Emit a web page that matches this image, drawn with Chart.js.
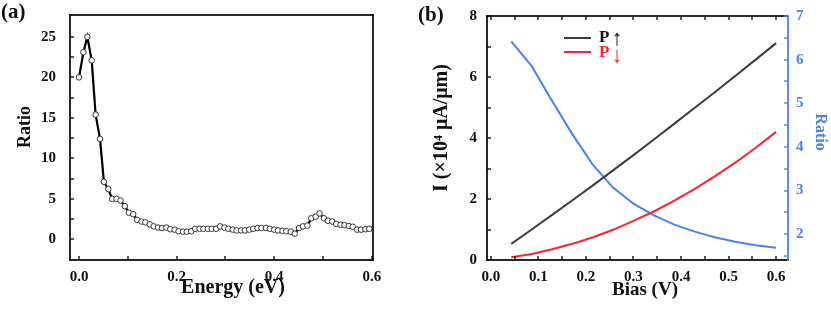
<!DOCTYPE html>
<html>
<head>
<meta charset="utf-8">
<script src="https://cdn.jsdelivr.net/npm/chart.js@4"></script>
<style>
  html, body { margin: 0; padding: 0; background: #fff; }
  #wrap { position: relative; width: 831px; height: 311px; }
  .panel { position: absolute; top: 0; height: 311px; }
  #panel-a { left: 0; width: 415px; }
  #panel-b { left: 415px; width: 416px; }
</style>
</head>
<body>
<div id="wrap">
  <div class="panel" id="panel-a"><canvas id="chart-a" width="415" height="311"></canvas></div>
  <div class="panel" id="panel-b"><canvas id="chart-b" width="416" height="311"></canvas></div>
</div>
<script>
// (a) ratio vs energy
const energy = [0.000, 0.009, 0.017, 0.026, 0.034, 0.043, 0.051, 0.060, 0.068, 0.077,
  0.085, 0.094, 0.102, 0.111, 0.119, 0.128, 0.136, 0.145, 0.153, 0.162,
  0.170, 0.179, 0.187, 0.196, 0.204, 0.213, 0.221, 0.230, 0.238, 0.247,
  0.255, 0.264, 0.272, 0.281, 0.289, 0.298, 0.306, 0.315, 0.323, 0.332,
  0.340, 0.349, 0.357, 0.366, 0.374, 0.383, 0.391, 0.400, 0.408, 0.417,
  0.425, 0.434, 0.442, 0.451, 0.459, 0.468, 0.476, 0.485, 0.493, 0.502,
  0.510, 0.519, 0.527, 0.536, 0.544, 0.553, 0.561, 0.570, 0.578, 0.587, 0.595];
const ratioA = [20.0, 23.1, 25.0, 22.1, 15.4, 12.4, 7.1, 6.2, 5.0, 5.0,
  4.8, 4.1, 3.3, 3.1, 2.4, 2.2, 2.1, 1.85, 1.6, 1.45,
  1.4, 1.45, 1.25, 1.2, 1.0, 0.95, 0.95, 1.0, 1.3, 1.3,
  1.3, 1.3, 1.3, 1.3, 1.6, 1.45, 1.3, 1.2, 1.1, 1.1,
  1.1, 1.2, 1.3, 1.4, 1.4, 1.4, 1.3, 1.2, 1.1, 1.05,
  1.0, 0.95, 0.7, 1.4, 1.6, 1.7, 2.6, 2.8, 3.2, 2.6,
  2.3, 2.2, 1.9, 1.8, 1.75, 1.65, 1.55, 1.2, 1.2, 1.25, 1.3];
const energyTicks = [0, 0.1, 0.2, 0.3, 0.4, 0.5, 0.6];
const energyLabels = [0, 0.2, 0.4, 0.6];
const ratioATicks = [0, 2.5, 5, 7.5, 10, 12.5, 15, 17.5, 20, 22.5, 25];
const ratioALabels = [0, 5, 10, 15, 20, 25];

// (b) current and ratio vs bias
const bias = [0.043, 0.086, 0.129, 0.171, 0.214, 0.257, 0.300, 0.343, 0.386, 0.429, 0.471, 0.514, 0.557, 0.600];
const currentUp = [0.53, 1.0, 1.48, 1.95, 2.44, 2.94, 3.44, 3.95, 4.47, 4.99, 5.50, 6.03, 6.57, 7.11];
const currentDown = [0.09, 0.20, 0.35, 0.53, 0.74, 0.99, 1.28, 1.59, 1.95, 2.33, 2.74, 3.19, 3.68, 4.2];
const ratioB = [6.42, 5.85, 5.05, 4.3, 3.6, 3.07, 2.7, 2.43, 2.22, 2.06, 1.93, 1.83, 1.75, 1.69];
const biasTicks = [0, 0.05, 0.1, 0.15, 0.2, 0.25, 0.3, 0.35, 0.4, 0.45, 0.5, 0.55, 0.6];
const biasLabels = [0, 0.1, 0.2, 0.3, 0.4, 0.5, 0.6];
const currentTicks = [0, 1, 2, 3, 4, 5, 6, 7, 8];
const currentLabels = [0, 2, 4, 6, 8];
const ratioBTicks = [1.5, 2, 2.5, 3, 3.5, 4, 4.5, 5, 5.5, 6, 6.5, 7];
const ratioBLabels = [2, 3, 4, 5, 6, 7];

const SERIF = "'Liberation Serif', 'Times New Roman', serif";
const INK = '#111';
const BLUE = '#4a82f4';
const RED = '#ff2030';
const GREY = '#3d3d3d';

const toXY = (xs, ys) => xs.map((x, i) => ({ x: x, y: ys[i] }));
const setTicks = vals => scale => { scale.ticks = vals.map(v => ({ value: v })); };
// fixed axis box size, no label overhang padding
const fixBox = (prop, size) => s => {
  s[prop] = size;
  s.paddingTop = 0; s.paddingBottom = 0; s.paddingLeft = 0; s.paddingRight = 0;
};

// inward tick marks, drawn as thin rects
const tickMarks = (ctx, scale, vals, side, len, color) => {
  const a = scale.chart.chartArea;
  ctx.fillStyle = color;
  vals.forEach(v => {
    const p = Math.round(scale.getPixelForValue(v));
    if (side === 'bottom') ctx.fillRect(p - 0.7, a.bottom - len, 1.4, len);
    if (side === 'top') ctx.fillRect(p - 0.7, a.top, 1.4, len);
    if (side === 'left') ctx.fillRect(a.left, p - 0.7, len, 1.4);
    if (side === 'right') ctx.fillRect(a.right - len, p - 0.7, len, 1.4);
  });
};

// axis title text, rot in radians
const axisTitle = (ctx, text, x, y, rot, size, color) => {
  ctx.save();
  ctx.translate(x, y);
  ctx.rotate(rot);
  ctx.font = 'bold ' + size + 'px ' + SERIF;
  ctx.fillStyle = color;
  ctx.textAlign = 'center';
  ctx.textBaseline = 'middle';
  ctx.fillText(text, 0, 0);
  ctx.restore();
};

const frameA = {
  id: 'frameA',
  afterDraw(chart) {
    const ctx = chart.ctx, a = chart.chartArea;
    const w = a.right - a.left, h = a.bottom - a.top;
    ctx.save();
    ctx.fillStyle = INK;
    ctx.fillRect(a.left - 0.9, a.top - 0.9, w + 1.8, 1.8);
    ctx.fillRect(a.left - 0.9, a.bottom - 0.9, w + 1.8, 1.8);
    ctx.fillRect(a.left - 0.9, a.top - 0.9, 1.8, h + 1.8);
    ctx.fillRect(a.right - 0.9, a.top - 0.9, 1.8, h + 1.8);
    tickMarks(ctx, chart.scales.x, energyTicks, 'bottom', 4, INK);
    tickMarks(ctx, chart.scales.y, ratioATicks, 'left', 4, INK);
    axisTitle(ctx, 'Energy (eV)', 233, 288, 0, 20, INK);
    axisTitle(ctx, 'Ratio', 25, 127, -Math.PI / 2, 18, INK);
    ctx.fillStyle = INK;
    ctx.font = 'bold 21px ' + SERIF;
    ctx.textBaseline = 'top';
    ctx.fillText('(a)', 1, 2);
    ctx.restore();
  }
};

const frameB = {
  id: 'frameB',
  afterDraw(chart) {
    const ctx = chart.ctx, a = chart.chartArea;
    const w = a.right - a.left, h = a.bottom - a.top;
    ctx.save();
    ctx.fillStyle = INK;
    ctx.fillRect(a.left - 0.9, a.top - 0.9, w + 1.8, 1.8);
    ctx.fillRect(a.left - 0.9, a.bottom - 0.9, w + 1.8, 1.8);
    ctx.fillRect(a.left - 0.9, a.top - 0.9, 1.8, h + 1.8);
    ctx.fillStyle = BLUE;
    ctx.fillRect(a.right - 0.9, a.top - 0.9, 1.8, h + 1.8);
    tickMarks(ctx, chart.scales.x, biasTicks, 'bottom', 4, INK);
    tickMarks(ctx, chart.scales.x, biasTicks, 'top', 4, INK);
    tickMarks(ctx, chart.scales.y, currentTicks, 'left', 4, INK);
    tickMarks(ctx, chart.scales.y1, ratioBTicks, 'right', 4, BLUE);

    axisTitle(ctx, 'Bias (V)', 230, 290, 0, 19, INK);
    axisTitle(ctx, 'I (\u00d710\u2074 \u03bcA/\u03bcm)', 27, 128, -Math.PI / 2, 20, INK);
    axisTitle(ctx, 'Ratio', 405, 132, Math.PI / 2, 16, BLUE);

    // legend
    ctx.lineWidth = 2;
    ctx.strokeStyle = GREY;
    ctx.beginPath(); ctx.moveTo(149, 38); ctx.lineTo(176, 38); ctx.stroke();
    ctx.strokeStyle = RED;
    ctx.beginPath(); ctx.moveTo(149, 52); ctx.lineTo(176, 52); ctx.stroke();
    ctx.textBaseline = 'middle';
    ctx.font = 'bold 17px ' + SERIF;
    ctx.fillStyle = INK;
    ctx.fillText('P', 184, 38);
    ctx.fillStyle = RED;
    ctx.fillText('P', 184, 53);
    ctx.font = '22px ' + SERIF;
    ctx.textAlign = 'center';
    ctx.fillStyle = INK;
    ctx.fillText('\u2191', 202, 39);
    ctx.fillStyle = RED;
    ctx.fillText('\u2193', 202, 56);
    ctx.textAlign = 'left';

    ctx.fillStyle = INK;
    ctx.font = 'bold 21px ' + SERIF;
    ctx.textBaseline = 'top';
    ctx.fillText('(b)', 3, 5);
    ctx.restore();
  }
};

const tickFont = { family: SERIF, size: 15, weight: 'bold' };

new Chart(document.getElementById('chart-a').getContext('2d'), {
  type: 'line',
  data: {
    datasets: [{
      data: toXY(energy, ratioA),
      borderColor: '#000',
      borderWidth: 2.2,
      pointRadius: 2.8,
      pointBorderWidth: 0.9,
      pointBackgroundColor: '#fff',
      pointBorderColor: '#222',
      tension: 0
    }]
  },
  options: {
    responsive: false,
    animation: false,
    layout: { padding: { top: 15, right: 42, left: 0, bottom: 0 } },
    plugins: { legend: { display: false }, tooltip: { enabled: false } },
    scales: {
      x: {
        type: 'linear',
        min: -0.0185,
        max: 0.6025,
        afterBuildTicks: setTicks(energyLabels),
        afterFit: fixBox('height', 51),
        grid: { display: false, drawTicks: false },
        border: { display: false },
        ticks: { font: tickFont, color: INK, padding: 8, maxRotation: 0, autoSkip: false,
          callback: v => v.toFixed(1) }
      },
      y: {
        min: -2.55,
        max: 27.7,
        afterBuildTicks: setTicks(ratioALabels),
        afterFit: fixBox('width', 70),
        grid: { display: false, drawTicks: false },
        border: { display: false },
        ticks: { font: tickFont, color: INK, padding: 14, autoSkip: false }
      }
    }
  },
  plugins: [frameA]
});

new Chart(document.getElementById('chart-b').getContext('2d'), {
  type: 'line',
  data: {
    datasets: [
      { data: toXY(bias, currentUp), yAxisID: 'y', borderColor: GREY, borderWidth: 2, pointRadius: 0, tension: 0 },
      { data: toXY(bias, currentDown), yAxisID: 'y', borderColor: RED, borderWidth: 2, pointRadius: 0, tension: 0 },
      { data: toXY(bias, ratioB), yAxisID: 'y1', borderColor: BLUE, borderWidth: 2, pointRadius: 0, tension: 0 }
    ]
  },
  options: {
    responsive: false,
    animation: false,
    layout: { padding: { top: 16, right: 0, left: 0, bottom: 0 } },
    plugins: { legend: { display: false }, tooltip: { enabled: false } },
    scales: {
      x: {
        type: 'linear',
        min: -0.008,
        max: 0.625,
        afterBuildTicks: setTicks(biasLabels),
        afterFit: fixBox('height', 51),
        grid: { display: false, drawTicks: false },
        border: { display: false },
        ticks: { font: tickFont, color: INK, padding: 8, maxRotation: 0, autoSkip: false,
          callback: v => v.toFixed(1) }
      },
      y: {
        position: 'left',
        min: 0,
        max: 8,
        afterBuildTicks: setTicks(currentLabels),
        afterFit: fixBox('width', 72),
        grid: { display: false, drawTicks: false },
        border: { display: false },
        ticks: { font: tickFont, color: INK, padding: 10, autoSkip: false }
      },
      y1: {
        position: 'right',
        min: 1.41,
        max: 7.0,
        afterBuildTicks: setTicks(ratioBLabels),
        afterFit: fixBox('width', 43),
        grid: { display: false, drawTicks: false },
        border: { display: false },
        ticks: { font: tickFont, color: BLUE, padding: 8, autoSkip: false }
      }
    }
  },
  plugins: [frameB]
});
</script>
</body>
</html>
